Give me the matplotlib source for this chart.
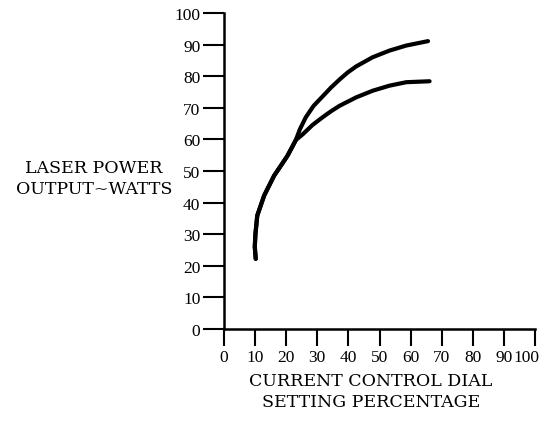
import matplotlib.pyplot as plt
from matplotlib.transforms import ScaledTranslation

# ── Data ─────────────────────────────────────────────────────────────────────
# shared lower trunk: both curves run together up to the branch point
TRUNK_X = [10.2, 9.9, 10.1, 10.7, 12.9, 16.1, 18.5, 20.4, 23.1]
TRUNK_Y = [22.2, 26.0, 30.0, 35.9, 42.2, 48.5, 52.0, 54.8, 59.8]

UPPER_X = [24.4, 26.3, 28.8, 31.7, 34.4, 37.1, 39.8, 42.5, 47.8, 53.2, 58.6, 65.6]
UPPER_Y = [63.2, 67.0, 70.6, 73.6, 76.4, 78.9, 81.2, 83.1, 86.0, 88.1, 89.7, 91.1]

LOWER_X = [25.3, 28.5, 31.7, 34.4, 37.1, 42.5, 47.8, 53.2, 58.6, 66.1]
LOWER_Y = [61.6, 64.6, 67.0, 68.9, 70.6, 73.3, 75.4, 77.0, 78.1, 78.4]

TICKS = list(range(0, 101, 10))

plt.rcParams['font.family'] = ['Liberation Serif', 'DejaVu Serif']

fig = plt.figure(figsize=(5.46, 4.27), dpi=100)
ax = fig.add_axes([224 / 546, 97 / 427, 311 / 546, 316 / 427])

for xs, ys in [(UPPER_X, UPPER_Y), (LOWER_X, LOWER_Y)]:
    ax.plot(TRUNK_X + xs, TRUNK_Y + ys, color='black', linewidth=3.0,
            solid_capstyle='round', solid_joinstyle='round')

ax.set_xlim(0, 100)
ax.set_ylim(0, 100)
ax.set_xticks(TICKS)
ax.set_yticks(TICKS)

for side in ['top', 'right']:
    ax.spines[side].set_visible(False)
for side in ['left', 'bottom']:
    ax.spines[side].set_linewidth(1.8)

ax.tick_params(axis='x', direction='out', length=12.5, width=1.5,
               labelsize=12.5, pad=2)
ax.tick_params(axis='y', direction='out', length=15, width=1.5,
               labelsize=12.5, pad=2)

# the "100" under the x axis sits a little left of its tick, as in the scan
last = ax.get_xticklabels()[-1]
last.set_transform(last.get_transform() + ScaledTranslation(-0.09, 0, fig.dpi_scale_trans))

label_font = dict(family=['DejaVu Serif'], fontsize=12.5, linespacing=1.3,
                  ha='center', va='center')
fig.text(94 / 546, 1 - 179 / 427, 'LASER POWER\nOUTPUT~WATTS', **label_font)
fig.text(371 / 546, 1 - 392 / 427, 'CURRENT CONTROL DIAL\nSETTING PERCENTAGE',
         **label_font)

fig.savefig('out.png', dpi=100)
